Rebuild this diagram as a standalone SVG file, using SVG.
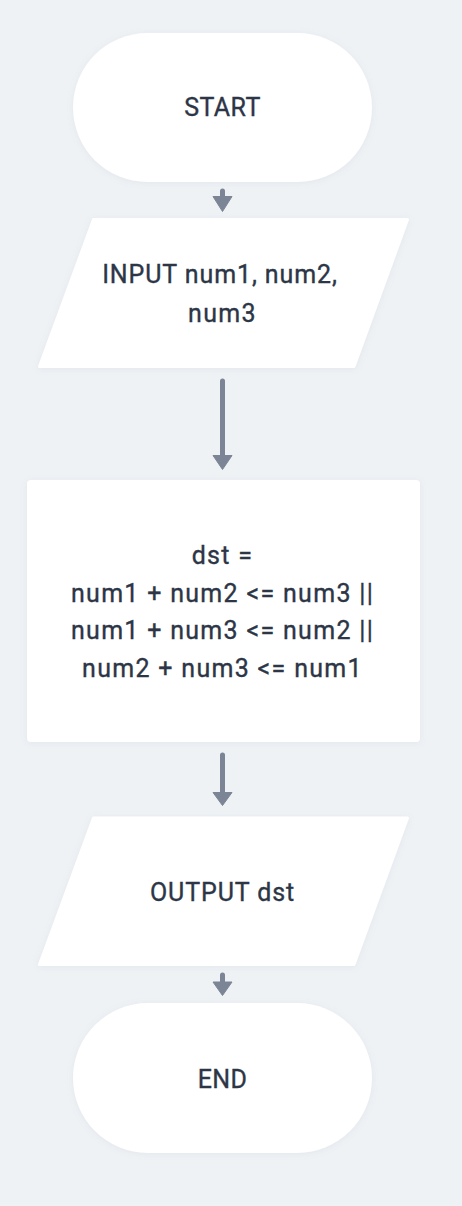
<svg xmlns="http://www.w3.org/2000/svg" width="462" height="1206" viewBox="0 0 462 1206">
  <defs>
    <filter id="sh" x="-10%" y="-10%" width="120%" height="120%">
      <feDropShadow dx="0" dy="1" stdDeviation="3" flood-color="#8a96a8" flood-opacity="0.12"/>
    </filter>
  </defs>
  <style>
    .node { fill: #ffffff; filter: url(#sh); }
    .para { fill: #ffffff; stroke: #ffffff; stroke-width: 3; stroke-linejoin: round; filter: url(#sh); }
    .label { font-family: Roboto, "Liberation Sans", sans-serif; font-size: 25px; font-weight: 400; fill: #2c3646; stroke: #2c3646; stroke-width: 0.35px; text-anchor: middle; letter-spacing: 1.3px; }
    .caps { letter-spacing: 0.4px; }
    .mixed { letter-spacing: 0.9px; }
    .shaft { stroke: #7b8595; stroke-width: 5; stroke-linecap: round; fill: none; }
    .head { fill: #7b8595; stroke: #7b8595; stroke-width: 1; stroke-linejoin: round; }
  </style>
  <rect x="0" y="0" width="462" height="1206" fill="#eef2f5"/>

  <g id="connectors">
    <line class="shaft" x1="222.5" y1="191" x2="222.5" y2="198"/>
    <polygon class="head" points="213,196.5 232,196.5 222.5,211.5"/>
    <line class="shaft" x1="222.5" y1="381" x2="222.5" y2="457"/>
    <polygon class="head" points="213,455.5 232,455.5 222.5,469.5"/>
    <line class="shaft" x1="222.5" y1="755" x2="222.5" y2="794"/>
    <polygon class="head" points="213,792.5 232,792.5 222.5,805.5"/>
    <line class="shaft" x1="222.5" y1="975" x2="222.5" y2="983"/>
    <polygon class="head" points="213,982 232,982 222.5,995.5"/>
  </g>

  <g id="start">
    <rect class="node" x="73" y="33" width="299" height="149" rx="74.5" ry="74.5"/>
    <text class="label caps" x="222.5" y="116">START</text>
  </g>

  <g id="input">
    <polygon class="para" points="93.5,219.5 407.5,219.5 354,366.5 39.5,366.5"/>
    <text class="label mixed" x="220" y="283">INPUT num1, num2,</text>
    <text class="label" x="222.5" y="321.5">num3</text>
  </g>

  <g id="process">
    <rect class="node" x="27" y="480" width="393" height="262" rx="4" ry="4"/>
    <text class="label" x="222.5" y="564">dst =</text>
    <text class="label" x="222.5" y="601.5">num1 + num2 &lt;= num3 ||</text>
    <text class="label" x="222.5" y="639">num1 + num3 &lt;= num2 ||</text>
    <text class="label" x="222.5" y="676.5">num2 + num3 &lt;= num1</text>
  </g>

  <g id="output">
    <polygon class="para" points="93.5,818 407.5,818 354,964.5 39.5,964.5"/>
    <text class="label mixed" x="222.5" y="900.5">OUTPUT dst</text>
  </g>

  <g id="end">
    <rect class="node" x="73" y="1003" width="299" height="150" rx="75" ry="75"/>
    <text class="label caps" x="222.5" y="1088">END</text>
  </g>
</svg>
